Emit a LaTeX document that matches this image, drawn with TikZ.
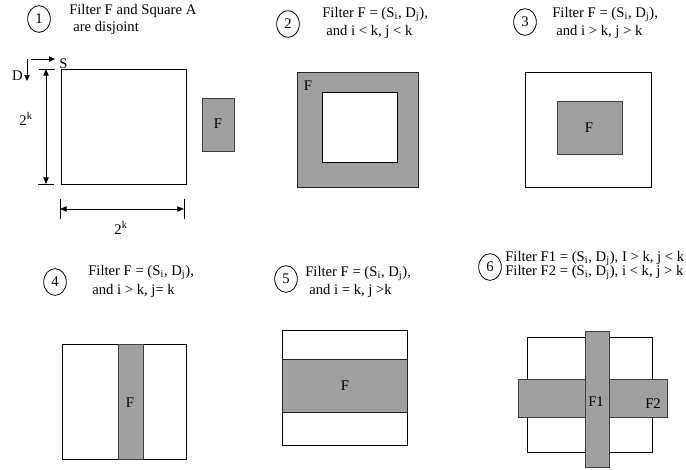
\documentclass[tikz,border=0pt]{standalone}
\usepackage{fontspec}
\setmainfont{Liberation Serif}
\usetikzlibrary{arrows.meta,shapes.geometric}
\definecolor{filtgray}{RGB}{160,160,160}

\begin{document}
\begin{tikzpicture}[x=0.75pt, y=-0.75pt,
    every node/.style={font=\fontsize{11}{13}\selectfont},
    num/.style={draw, ellipse, line width=0.6pt, minimum width=17pt, minimum height=20pt, inner sep=0pt},
    txt/.style={anchor=base west, inner sep=0pt},
    sq/.style={draw, line width=0.7pt},
    filt/.style={fill=filtgray, draw=black!75, line width=0.7pt},
    dim/.style={line width=0.6pt, {Triangle[length=5pt,width=4pt]}-{Triangle[length=5pt,width=4pt]}},
    dir/.style={line width=0.6pt, -{Triangle[length=4.5pt,width=4pt]}}]
    \useasboundingbox (0,0) rectangle (686,469);

    \node[num] (n1) at (39,19) {1};
    \node[txt] (t1a) at (69,14) {Filter F and Square A};
    \node[txt] (t1b) at (73,31) {are disjoint};
    \draw[sq] (61,69) rectangle (186,184);
    \draw[filt] (202,98) rectangle (234,151);
    \node (f1) at (218,124) {F};
    \coordinate (sa) at (31,59);
    \coordinate (sb) at (55,59);
    \draw[dir] (sa) -- (sb);
    \node[anchor=base west, inner sep=0pt] (s) at (59,68) {S};
    \coordinate (da) at (27,59);
    \coordinate (db) at (27,81);
    \draw[dir] (da) -- (db);
    \node[anchor=base east, inner sep=0pt] (d) at (23,80) {D};
    \coordinate (vt) at (46,69);
    \coordinate (vb) at (46,184);
    \draw[line width=0.6pt] (39,69) -- (55,69);
    \draw[line width=0.6pt] (38,184) -- (54,184);
    \draw[dim] (vt) -- (vb);
    \node (kv) at (26,119) {2\textsuperscript{k}};
    \coordinate (hl) at (60,209);
    \coordinate (hr) at (184,209);
    \draw[line width=0.6pt] (60,199) -- (60,219);
    \draw[line width=0.6pt] (184,199) -- (184,219);
    \draw[dim] (hl) -- (hr);
    \node (kh) at (121,228) {2\textsuperscript{k}};

    \node[num] (n2) at (288,24) {2};
    \node[txt] (t2a) at (322,17) {Filter F = (S\textsubscript{i}, D\textsubscript{j}),};
    \node[txt] (t2b) at (326,35) {and i < k, j < k};
    \draw[filt, draw=black!85] (297,72) rectangle (418,187);
    \draw[sq, fill=white] (322,92) rectangle (397,162);
    \node (f2) at (308,86) {F};

    \node[num] (n3) at (525,22) {3};
    \node[txt] (t3a) at (552,17) {Filter F = (S\textsubscript{i}, D\textsubscript{j}),};
    \node[txt] (t3b) at (556,35) {and i > k, j > k};
    \draw[sq] (525,72) rectangle (651,187);
    \draw[filt] (557,101) rectangle (622,154);
    \node (f3) at (589,128) {F};

    \node[num] (n4) at (55,282) {4};
    \node[txt] (t4a) at (88,275) {Filter F = (S\textsubscript{i}, D\textsubscript{j}),};
    \node[txt] (t4b) at (92,294) {and i > k, j= k};
    \draw[sq] (62,344) rectangle (186,459);
    \draw[filt] (118,344) rectangle (143,459);
    \node (f4) at (130,403) {F};

    \node[num] (n5) at (286,279) {5};
    \node[txt] (t5a) at (305,276) {Filter F = (S\textsubscript{i}, D\textsubscript{j}),};
    \node[txt] (t5b) at (309,294) {and i = k, j >k};
    \draw[sq] (282,330) rectangle (407,445);
    \draw[filt, draw=black!85] (282,359) rectangle (407,412);
    \node (f5) at (345,386) {F};

    \node[num] (n6) at (490,267) {6};
    \node[txt] (t6a) at (505,261) {Filter F1 = (S\textsubscript{i}, D\textsubscript{j}), I > k, j < k};
    \node[txt] (t6b) at (505,275) {Filter F2 = (S\textsubscript{i}, D\textsubscript{j}), i < k, j > k};
    \draw[sq] (527,337) rectangle (652,452);
    \draw[filt] (518,379) rectangle (667,417);
    \draw[filt] (585,331) rectangle (609,467);
    \node (f6a) at (596,402) {F1};
    \node (f6b) at (653,404) {F2};
\end{tikzpicture}
\end{document}
